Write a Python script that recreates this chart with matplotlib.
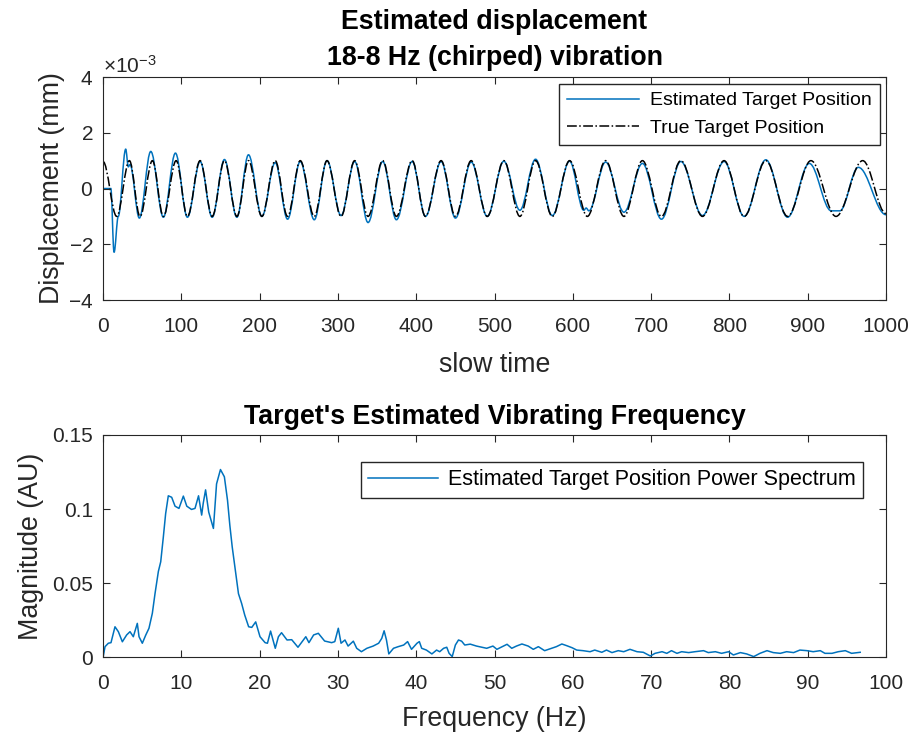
# %% Libraries
import numpy as np
import matplotlib
matplotlib.use("Agg")
import matplotlib.pyplot as plt
from matplotlib.path import Path
from matplotlib.patches import PathPatch
from matplotlib.ticker import ScalarFormatter, FormatStrFormatter

# %% Data
# --+ true target position, turning points (slow time, x1e-3 mm)
true_t = [0, 17.5, 33.7, 47.3, 63.1, 77.1, 93.4, 107.8, 124.0, 139.4, 155.1,
          171.0, 185.8, 202.9, 219.9, 235.7, 251.9, 269.8, 286.1, 304.0, 321.4,
          338.5, 357.2, 374.7, 394.8, 411.8, 431.8, 450.1, 470.2, 490.7, 511.9,
          532.4, 552.4, 573.8, 595.9, 618.5, 641.9, 665.3, 688.9, 713.2, 737.9,
          765.6, 793.2, 818.8, 846.5, 874.3, 904.1, 936.1, 970.2, 1000]
true_v = [0.97, -1.0, 1.0, -1.0, 1.0, -1.0, 1.0, -1.0, 1.0, -1.0, 1.0,
          -1.0, 1.0, -1.0, 1.0, -1.0, 1.0, -1.0, 1.0, -1.0, 1.0,
          -1.0, 1.0, -1.0, 1.0, -1.0, 1.0, -1.0, 1.0, -1.0, 1.0,
          -1.0, 1.0, -1.0, 1.0, -1.0, 1.0, -1.0, 1.0, -1.0, 1.0,
          -1.0, 1.0, -1.0, 1.0, -1.0, 1.0, -1.0, 1.0, -0.9]
# --+ estimated target position, turning points (slow time, x1e-3 mm)
est_t = [0, 10, 14.1, 19.5, 29.0, 32.3, 34.5, 46.4, 61.0, 77.1, 92.5, 107.8,
         124.0, 139.4, 155.1, 171.0, 185.8, 202.9, 219.9, 235.7, 251.9, 269.8,
         286.1, 304.0, 321.4, 338.5, 357.2, 374.7, 394.8, 411.8, 431.8, 450.1,
         470.2, 490.7, 511.9, 532.4, 552.4, 573.8, 595.9, 614.0, 617.0, 620.5,
         641.9, 665.3, 688.9, 713.2, 737.9, 765.6, 793.2, 818.8, 846.5, 874.3,
         902.0, 930.0, 941.0, 964.6, 1000]
est_v = [0, 0, -2.29, -1.0, 1.41, 0.78, 0.86, -1.06, 1.33, -1.03, 1.27, -1.03,
         0.97, -1.03, 1.04, -1.03, 1.21, -1.0, 0.93, -1.1, 0.97, -1.12,
         1.0, -0.97, 0.97, -1.22, 0.97, -1.12, 0.97, -1.0, 0.97, -1.06,
         0.95, -1.0, 0.98, -0.78, 1.05, -0.97, 0.98, -0.78, -0.7, -0.8,
         0.95, -0.85, 0.9, -1.1, 0.97, -0.97, 0.97, -1.0, 1.03, -1.03,
         0.9, -0.8, -0.8, 0.76, -0.94]
# --+ estimated position power spectrum
freq = [0, 0.26, 0.68, 1.02, 1.53, 1.96, 2.47, 3.02, 3.45, 3.87, 4.38, 4.6,
        5.02, 5.45, 5.87, 6.3, 6.64, 7.07, 7.37, 7.7, 8.0, 8.34, 8.77, 9.2,
        9.7, 10.26, 10.7, 11.3, 11.75, 12.2, 12.6, 12.8, 13.1, 13.5, 14.1,
        14.5, 15.0, 15.5, 15.9, 16.2, 16.5, 16.9, 17.3, 17.7, 18.1, 18.6,
        19.0, 19.5, 20.05, 20.7, 21.0, 21.4, 22.0, 22.4, 22.8, 23.5, 24.1,
        24.9, 25.6, 25.9, 26.3, 26.9, 27.5, 28.3, 29.2, 29.6, 30.05, 30.4,
        30.9, 31.3, 31.97, 32.4, 33.0, 33.7, 34.5, 35.2, 35.6, 35.9, 36.2,
        36.5, 37.1, 37.7, 38.4, 38.9, 39.4, 40.1, 40.4, 40.7, 41.3, 42.0,
        42.6, 43.0, 43.5, 43.9, 44.2, 44.6, 45.0, 45.4, 45.8, 46.2, 46.9,
        47.7, 48.4, 49.0, 49.8, 50.3, 51.6, 52.2, 52.8, 53.5, 54.3, 54.95,
        55.6, 56.4, 57.3, 57.9, 58.6, 59.2, 59.9, 60.5, 61.3, 62.2, 62.8,
        63.7, 64.3, 65.0, 65.8, 66.5, 67.3, 68.2, 69.0, 69.9, 70.5, 71.4,
        72.0, 72.6, 73.3, 73.9, 74.8, 75.6, 76.7, 77.3, 78.2, 79.0, 79.9,
        80.5, 81.4, 82.2, 83.1, 83.9, 84.8, 85.6, 86.5, 87.3, 88.2, 89.0,
        89.9, 90.7, 91.6, 92.2, 93.1, 93.9, 94.8, 95.6, 96.7]
mag = [0, 0.0073, 0.0096, 0.010, 0.0207, 0.0174, 0.0106, 0.0152, 0.0174,
       0.014, 0.023, 0.014, 0.0096, 0.015, 0.0197, 0.0298, 0.043, 0.058,
       0.0645, 0.081, 0.097, 0.109, 0.108, 0.102, 0.1005, 0.1088, 0.102,
       0.0998, 0.1005, 0.109, 0.096, 0.104, 0.113, 0.098, 0.087, 0.117,
       0.1267, 0.1218, 0.106, 0.089, 0.0746, 0.059, 0.043, 0.0365, 0.0286,
       0.0207, 0.0203, 0.024, 0.014, 0.010, 0.0096, 0.0178, 0.0062, 0.014,
       0.0167, 0.0118, 0.012, 0.0069, 0.0118, 0.014, 0.010, 0.0152, 0.0163,
       0.0111, 0.010, 0.0107, 0.0197, 0.0096, 0.0118, 0.0077, 0.011, 0.0062,
       0.0039, 0.0062, 0.0077, 0.0096, 0.0129, 0.018, 0.0118, 0.0024, 0.0062,
       0.0073, 0.0084, 0.0107, 0.0055, 0.0096, 0.0107, 0.0062, 0.005, 0.0024,
       0.005, 0.0039, 0.0062, 0.0069, 0.0028, 0.0006, 0.0084, 0.0118, 0.011,
       0.0084, 0.009, 0.0077, 0.0069, 0.0062, 0.0077, 0.0055, 0.0089, 0.0062,
       0.0077, 0.0091, 0.0077, 0.0055, 0.0073, 0.0046, 0.0062, 0.0073, 0.0091,
       0.008, 0.0066, 0.005, 0.0046, 0.0039, 0.005, 0.0035, 0.005, 0.0033,
       0.0046, 0.0039, 0.0055, 0.0039, 0.0035, 0.001, 0.0028, 0.0039, 0.0028,
       0.0046, 0.0028, 0.0039, 0.0033, 0.0039, 0.0046, 0.0033, 0.0039, 0.0028,
       0.0039, 0.0017, 0.0033, 0.0024, 0.0006, 0.0028, 0.0046, 0.0033, 0.0028,
       0.0039, 0.0033, 0.005, 0.0046, 0.0039, 0.0046, 0.0028, 0.0028, 0.0039,
       0.0046, 0.0028, 0.0035]

# %% Style
# --+ params
BLUE = '#0072BD'
AX_COLOR = '#262626'
plt.rcParams['font.family'] = ['Liberation Sans', 'DejaVu Sans']
plt.rcParams['axes.unicode_minus'] = False
plt.rcParams['mathtext.fontset'] = 'custom'
plt.rcParams['mathtext.rm'] = 'Liberation Sans'
TICK_FS = 15
LABEL_FS = 19.3
LW = 1.1


# --+ smooth curve through turning points (flat tangent at each point)
def turning_path(t, v, scale=1e-3, k=0.36):
    verts = [(t[0], v[0] * scale)]
    codes = [Path.MOVETO]
    for i in range(1, len(t)):
        dt = t[i] - t[i - 1]
        verts += [(t[i - 1] + k * dt, v[i - 1] * scale),
                  (t[i] - k * dt, v[i] * scale),
                  (t[i], v[i] * scale)]
        codes += [Path.CURVE4] * 3
    return Path(verts, codes)


def style_axes(ax):
    for spine in ax.spines.values():
        spine.set_color(AX_COLOR)
        spine.set_linewidth(0.8)
    ax.tick_params(direction='in', top=True, right=True, length=5,
                   width=0.8, labelsize=TICK_FS, colors=AX_COLOR,
                   labelcolor=AX_COLOR)
    ax.tick_params(axis='x', pad=12)
    ax.tick_params(axis='y', pad=7)


# %% Figure
fig = plt.figure(figsize=(9.14, 7.39), dpi=100)
ax_0 = fig.add_axes([0.1127, 0.594, 0.8567, 0.3018])
ax_1 = fig.add_axes([0.1127, 0.1103, 0.8567, 0.3011])

# --+ displacement
ax_0.add_patch(PathPatch(turning_path(est_t, est_v), fill=False,
                         edgecolor=BLUE, lw=LW))
ax_0.add_patch(PathPatch(turning_path(true_t, true_v), fill=False,
                         edgecolor='black', lw=LW, linestyle='-.'))
ax_0.plot([], [], color=BLUE, lw=LW, label='Estimated Target Position')
ax_0.plot([], [], color='black', lw=LW, linestyle='-.',
          label='True Target Position')
ax_0.set_xlim(0, 1000)
ax_0.set_ylim(-4e-3, 4e-3)
ax_0.set_xticks(np.arange(0, 1001, 100))
ax_0.set_yticks(np.arange(-4e-3, 4.1e-3, 2e-3))
fmt = ScalarFormatter(useMathText=True)
fmt.set_powerlimits((0, 0))
ax_0.yaxis.set_major_formatter(fmt)
style_axes(ax_0)
ax_0.yaxis.get_offset_text().set_fontsize(TICK_FS)
ax_0.yaxis.get_offset_text().set_color(AX_COLOR)
ax_0.set_xlabel('slow time', fontsize=LABEL_FS, color=AX_COLOR, labelpad=12)
ax_0.set_ylabel('Displacement (mm)', fontsize=LABEL_FS, color=AX_COLOR,
                labelpad=2)
ax_0.set_title('Estimated displacement\n18-8 Hz (chirped) vibration',
               fontsize=LABEL_FS, fontweight='bold', pad=9, linespacing=1.5)
ax_0.legend(loc='upper right', bbox_to_anchor=(0.992, 0.9686),
            fontsize=14, fancybox=False, edgecolor=AX_COLOR,
            framealpha=1, borderaxespad=0, handlelength=3.7,
            handletextpad=0.6)

# --+ spectrum
ax_1.plot(freq, mag, color=BLUE, lw=LW,
          label='Estimated Target Position Power Spectrum')
ax_1.set_xlim(0, 100)
ax_1.set_ylim(0, 0.15)
ax_1.set_xticks(np.arange(0, 101, 10))
ax_1.set_yticks([0, 0.05, 0.1, 0.15])
ax_1.yaxis.set_major_formatter(FormatStrFormatter('%g'))
style_axes(ax_1)
ax_1.set_xlabel('Frequency (Hz)', fontsize=LABEL_FS, color=AX_COLOR,
                labelpad=9)
ax_1.set_ylabel('Magnitude (AU)', fontsize=LABEL_FS, color=AX_COLOR,
                labelpad=6)
ax_1.set_title("Target's Estimated Vibrating Frequency",
               fontsize=LABEL_FS, fontweight='bold', pad=8)
ax_1.legend(loc='upper right', bbox_to_anchor=(0.9706, 0.879),
            fontsize=15.5, fancybox=False, edgecolor=AX_COLOR,
            framealpha=1, borderaxespad=0, handlelength=3.25,
            handletextpad=0.45, borderpad=0.35)

fig.savefig('out.png', dpi=100)
